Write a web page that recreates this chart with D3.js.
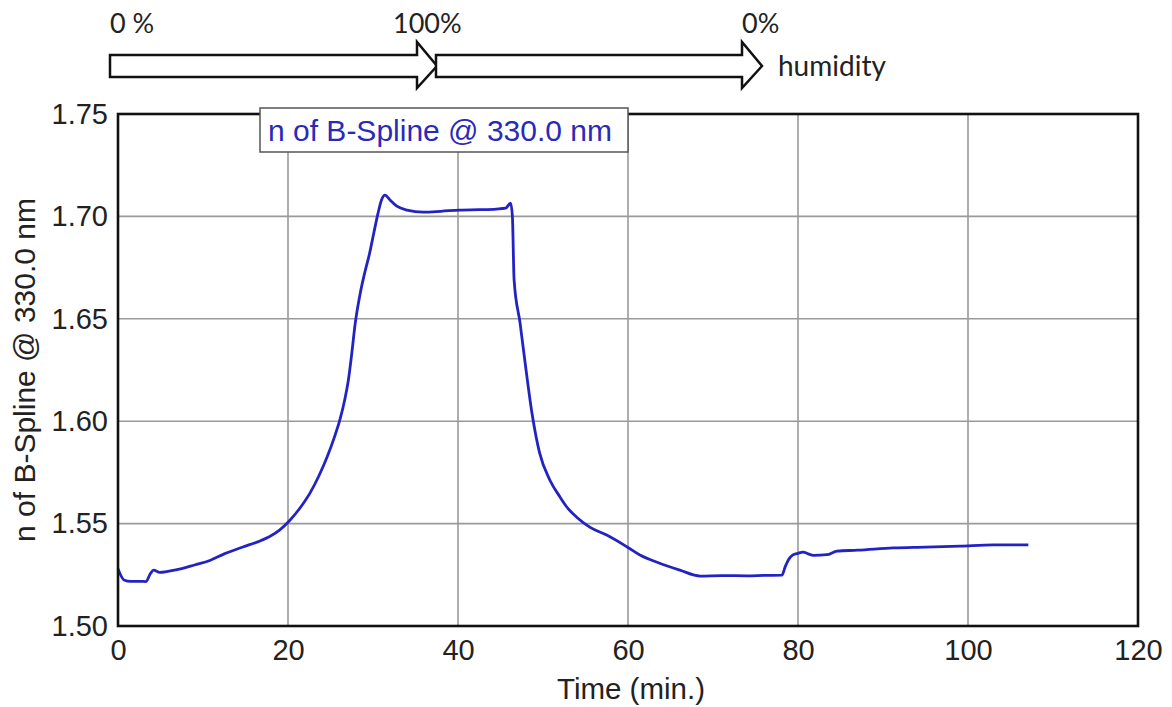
<!DOCTYPE html>
<html>
<head>
<meta charset="utf-8">
<script src="https://cdn.jsdelivr.net/npm/d3@7"></script>
<style>
  body { margin: 0; background: #fff; }
  svg { display: block; }
</style>
</head>
<body>
<svg id="chart" width="1172" height="707"></svg>
<script>
// time in minutes and refractive index
const time = [0, 0.3, 0.7, 1.5, 2.5, 3.3, 3.8, 4.2, 4.9, 6, 7.5, 9, 10.8, 12.5, 14.7, 16.5, 17.9, 19, 20.2, 21.3,
  22.6, 23.6, 24.6, 25.4, 26.1, 26.7, 27.1, 27.5, 27.9, 28.5, 29.0, 29.6, 30.1, 30.6, 31.0, 31.4, 32.0, 32.8, 34.0, 35.9,
  38, 40.2, 42.5, 44.5, 45.6, 46.2, 46.4, 46.6, 47.3, 47.9, 48.7, 49.6, 50.8, 52.0, 52.8, 54.0, 55.5, 57.5, 59.9, 61.4,
  63.5, 66.1, 68.5, 71, 74, 76, 78.1, 78.5, 78.9, 79.4, 80.0, 80.6, 81.2, 81.8, 83.4, 84.6, 87, 91.2, 95, 99.1, 103, 107.1]
const nValue = [1.528, 1.525, 1.5225, 1.5218, 1.5218, 1.5217, 1.5255, 1.5273, 1.5262, 1.5268, 1.528, 1.5298, 1.532, 1.5352, 1.5386, 1.5412, 1.5438, 1.5468, 1.5515, 1.557,
  1.565, 1.573, 1.5825, 1.5915, 1.6006, 1.611, 1.62, 1.633, 1.6475, 1.6625, 1.672, 1.682, 1.692, 1.7017, 1.708, 1.7104, 1.708, 1.705, 1.7031, 1.7021,
  1.7025, 1.7031, 1.7033, 1.7036, 1.704, 1.7065, 1.70, 1.669, 1.648, 1.6284, 1.604, 1.5845, 1.5713, 1.563, 1.5581, 1.553, 1.5483, 1.5444, 1.5386, 1.5347,
  1.531, 1.5273, 1.5244, 1.5246, 1.5245, 1.5247, 1.5248, 1.529, 1.5325, 1.5347, 1.5355, 1.5361, 1.5352, 1.5345, 1.5348, 1.5366, 1.537, 1.5381, 1.5385, 1.539, 1.5396, 1.5396]

const xTicks = [0, 20, 40, 60, 80, 100, 120]
const yTicks = [1.50, 1.55, 1.60, 1.65, 1.70, 1.75]
const humidityLabels = ['0 %', '100%', '0%']
const seriesName = 'n of B-Spline @ 330.0 nm'

const svg = d3.select('#chart')
const margin = {left: 118, top: 114, right: 34, bottom: 81}
const width = 1172 - margin.left - margin.right
const height = 707 - margin.top - margin.bottom
const font = 'Liberation Sans, Arial, sans-serif'

const x = d3.scaleLinear().domain([0, 120]).range([0, width])
const y = d3.scaleLinear().domain([1.50, 1.75]).range([height, 0])

const g = svg.append('g').attr('transform', `translate(${margin.left},${margin.top})`)

// grid
g.append('g').selectAll('line.vgrid')
  .data(xTicks.slice(1, -1)).join('line')
  .attr('x1', d => x(d)).attr('x2', d => x(d))
  .attr('y1', 0).attr('y2', height)
  .attr('stroke', '#9a9a9a').attr('stroke-width', 1.6)
g.append('g').selectAll('line.hgrid')
  .data(yTicks.slice(1, -1)).join('line')
  .attr('x1', 0).attr('x2', width)
  .attr('y1', d => y(d)).attr('y2', d => y(d))
  .attr('stroke', '#9a9a9a').attr('stroke-width', 1.6)

// axes (labels only, frame drawn below)
const xAxis = g.append('g').attr('transform', `translate(0,${height})`)
  .call(d3.axisBottom(x).tickValues(xTicks).tickSize(0).tickPadding(13).tickFormat(d3.format('d')))
const yAxis = g.append('g')
  .call(d3.axisLeft(y).tickValues(yTicks).tickSize(0).tickPadding(10).tickFormat(d3.format('.2f')))
for (const ax of [xAxis, yAxis]) {
  ax.select('.domain').remove()
  ax.selectAll('text').attr('font-family', font)
    .attr('font-size', 29).attr('fill', '#222')
}

// data line
const line = d3.line().x((d, i) => x(time[i])).y(d => y(d)).curve(d3.curveMonotoneX)
g.append('path')
  .datum(nValue)
  .attr('d', line)
  .attr('fill', 'none')
  .attr('stroke', '#2323c4')
  .attr('stroke-width', 2.8)
  .attr('stroke-linejoin', 'round')

// frame
g.append('rect')
  .attr('width', width).attr('height', height)
  .attr('fill', 'none').attr('stroke', '#111').attr('stroke-width', 2.6)

// legend box
const legend = svg.append('g').attr('transform', 'translate(260,108)')
legend.append('rect')
  .attr('width', 368).attr('height', 44)
  .attr('fill', '#fff').attr('stroke', '#555').attr('stroke-width', 1.5)
legend.append('text')
  .attr('x', 8).attr('y', 33)
  .attr('font-family', font)
  .attr('font-size', 30).attr('fill', '#2a2ab8')
  .text(seriesName)

// axis titles
svg.append('text')
  .attr('x', margin.left + width / 2 + 3).attr('y', 699)
  .attr('text-anchor', 'middle')
  .attr('font-family', font)
  .attr('font-size', 29.5).attr('fill', '#222')
  .text('Time (min.)')
svg.append('text')
  .attr('transform', 'translate(35,370) rotate(-90)')
  .attr('text-anchor', 'middle')
  .attr('font-family', font)
  .attr('font-size', 30).attr('fill', '#222')
  .text(seriesName)

// humidity arrows above the chart
function arrowPath(x0, x1) {
  // body from y 55 to 77, head from y 42 to 88
  const headStart = x1 - 20
  return `M${x0},55 L${headStart},55 L${headStart},42 L${x1},66 L${headStart},88 L${headStart},77 L${x0},77 Z`
}
const arrows = [[110, 437], [436, 762]]
svg.append('g').selectAll('path')
  .data(arrows).join('path')
  .attr('d', d => arrowPath(d[0], d[1]))
  .attr('fill', '#fff').attr('stroke', '#111').attr('stroke-width', 2.5)
  .attr('stroke-linejoin', 'miter')

const labelX = [110, 393, 742]
svg.append('g').selectAll('text')
  .data(humidityLabels).join('text')
  .attr('x', (d, i) => labelX[i]).attr('y', 33)
  .attr('font-family', 'Lato, Open Sans, sans-serif')
  .attr('font-size', 27).attr('fill', '#222')
  .text(d => d)
svg.append('text')
  .attr('x', 778).attr('y', 76)
  .attr('font-family', 'Lato, Open Sans, sans-serif')
  .attr('font-size', 28).attr('fill', '#222')
  .text('humidity')
</script>
</body>
</html>
